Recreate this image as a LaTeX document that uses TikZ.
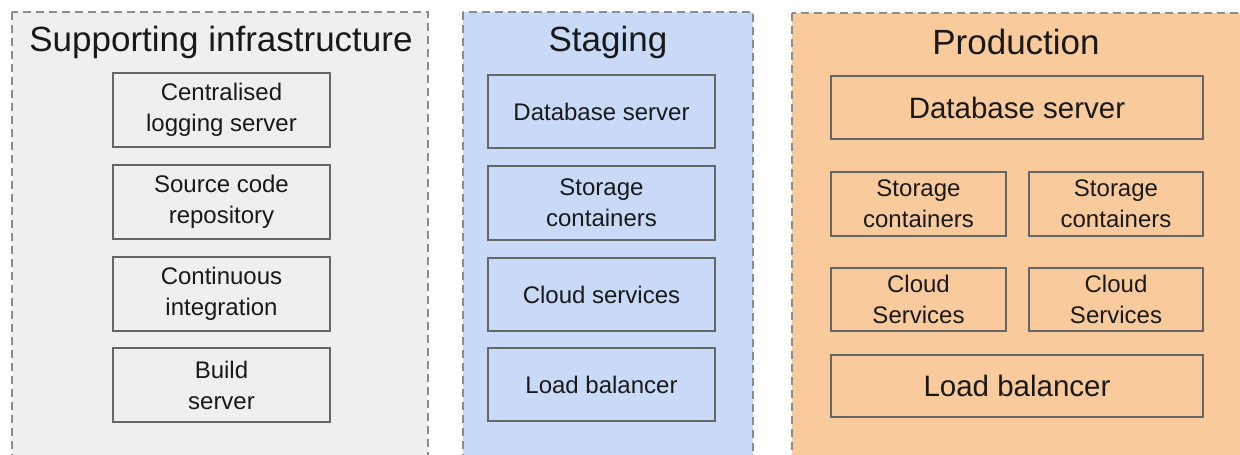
\documentclass[tikz,border=0pt]{standalone}
\usepackage{fontspec}
\setmainfont{Liberation Sans}
\definecolor{supfill}{HTML}{EFEFEF}
\definecolor{stgfill}{HTML}{C9DAF8}
\definecolor{prdfill}{HTML}{F9CB9C}
\definecolor{dashcol}{HTML}{8C8C8C}
\definecolor{boxline}{HTML}{666666}
\begin{document}
\begin{tikzpicture}[x=1pt,y=-1pt,
  group/.style={draw=dashcol,line width=2pt,dash pattern=on 8pt off 5pt},
  title/.style={font=\fontsize{35}{40}\selectfont,text=black!90,anchor=center},
  item/.style={draw=boxline,line width=2pt,align=center,inner sep=0pt,
    font=\fontsize{24}{31}\selectfont,text=black!90},
  bigitem/.style={item,font=\fontsize{29.5}{34}\selectfont}]
\useasboundingbox (0,0) rectangle (1240,455);
\clip (0,0) rectangle (1240,455);
\fill[white] (0,0) rectangle (1240,455);
% groups
\path[group,fill=supfill] (12,12) -- (12,470) -- (428,470) -- (428,12) -- cycle;
\path[group,fill=stgfill] (463,12) -- (463,470) -- (753,470) -- (753,12) -- cycle;
\path[group,fill=prdfill] (792,13) -- (792,470) -- (1260,470) -- (1260,13) -- cycle;
\node[title] (tsup) at (221,42) {Supporting infrastructure};
\node[title] (tstg) at (608,42) {Staging};
\node[title] (tprd) at (1016,42) {Production};
% supporting
\node[item,minimum width=217pt,minimum height=74pt] (s1) at (221.5,110) {Centralised\\logging server};
\node[item,minimum width=217pt,minimum height=74pt] (s2) at (221.5,202) {Source code\\repository};
\node[item,minimum width=217pt,minimum height=74pt] (s3) at (221.5,294) {Continuous\\integration};
\node[item,minimum width=217pt,minimum height=74pt] (s4) at (221.5,385) {Build\\server};
% staging
\node[item,minimum width=227pt,minimum height=73pt] (g1) at (601.5,111.5) {Database server};
\node[item,minimum width=227pt,minimum height=74pt] (g2) at (601.5,203) {Storage\\containers};
\node[item,minimum width=227pt,minimum height=73pt] (g3) at (601.5,294.5) {Cloud services};
\node[item,minimum width=227pt,minimum height=73pt] (g4) at (601.5,384.5) {Load balancer};
% production
\node[bigitem,minimum width=372pt,minimum height=63pt] (p1) at (1017,107.5) {Database server};
\node[item,minimum width=175pt,minimum height=64pt] (p2) at (918.5,204) {Storage\\containers};
\node[item,minimum width=174pt,minimum height=64pt] (p3) at (1116,204) {Storage\\containers};
\node[item,minimum width=175pt,minimum height=63pt] (p4) at (918.5,299.5) {Cloud\\Services};
\node[item,minimum width=174pt,minimum height=63pt] (p5) at (1116,299.5) {Cloud\\Services};
\node[bigitem,minimum width=372pt,minimum height=62pt] (p6) at (1017,386) {Load balancer};
\end{tikzpicture}
\end{document}
